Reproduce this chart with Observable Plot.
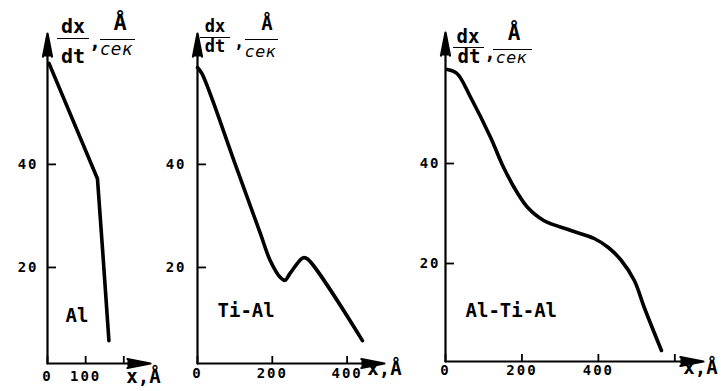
<!DOCTYPE html>
<html>
<head>
<meta charset="utf-8">
<script src="https://cdn.jsdelivr.net/npm/d3@7"></script>
<script src="https://cdn.jsdelivr.net/npm/@observablehq/plot@0.6"></script>
<style>
  html, body { margin: 0; padding: 0; background: #fff; }
  #wrap { position: relative; width: 721px; height: 391px; overflow: hidden; background: #fff; }
  #wrap svg { position: absolute; top: 0; overflow: visible; }
  #wrap g[aria-label="y-axis tick label"] text,
  #wrap g[aria-label="x-axis tick label"] text { letter-spacing: 2px; }
  .lab { position: absolute; transform: translate(-50%, -50%); line-height: 0.8; white-space: nowrap; color: #000; }
  .mono { font-family: "DejaVu Sans Mono", monospace; font-weight: bold; }
  .cek { font-family: "DejaVu Sans", sans-serif; font-style: italic; font-weight: normal; letter-spacing: 1px; }
  .bar { position: absolute; height: 0; border-top: 1.6px solid #000; }
</style>
</head>
<body>
<div id="wrap"></div>
<script>
// ---- data ----
// Panel 1: Al
const alX = [4, 131, 145, 161];
const alY = [59.6, 37.2, 22.8, 5.8];
// Panel 2: Ti-Al
const tiAlX = [0, 12, 100, 168, 194, 221, 234, 247, 274, 283, 295, 441];
const tiAlY = [58.8, 57.6, 40.2, 26.6, 21.4, 18.1, 17.5, 18.8, 21.4, 21.9, 21.6, 5.8];
// Panel 3: Al-Ti-Al
const alTiAlX = [5, 30, 66, 118, 152, 189, 215, 257, 328, 389, 426, 460, 494, 520, 565];
const alTiAlY = [58.8, 58.0, 53.2, 45.2, 39.2, 34.0, 31.2, 28.6, 26.6, 25.0, 23.2, 20.6, 16.6, 11.2, 2.6];

const yTicks = [20, 40];
const yTickLabels = ["20", "40"];
const p1XTicks = [0, 100, 200];
const p1XLabels = ["0", "100", ""];
const p2XTicks = [0, 200, 400];
const p2XLabels = ["0", "200", "400"];
const p3XTicks = [0, 200, 400, 600];
const p3XLabels = ["0", "200", "400", ""];
const sampleNames = ["Al", "Ti-Al", "Al-Ti-Al"];
const xAxisLabel = "x,Å";

// ---- panels ----
const wrap = document.getElementById("wrap");

function makePanel(cfg) {
  const data = cfg.xs.map((x, i) => ({x, y: cfg.ys[i]}));
  const [x0, x1] = cfg.xDomain;
  const [y0, y1] = cfg.yDomain;
  const xFmt = d => cfg.xLabels[cfg.xTicks.indexOf(d)];
  const yFmt = d => yTickLabels[yTicks.indexOf(d)];
  const svg = Plot.plot({
    width: cfg.width,
    height: 391,
    marginLeft: cfg.ml,
    marginRight: cfg.mr,
    marginTop: cfg.mt,
    marginBottom: cfg.mb,
    x: {domain: cfg.xDomain},
    y: {domain: cfg.yDomain},
    style: {background: "transparent", overflow: "visible", color: "#000",
            fontFamily: "'DejaVu Sans Mono', monospace", fontWeight: "bold", fontSize: "14px"},
    marks: [
      Plot.axisY(yTicks, {tickSize: 0, tickPadding: cfg.yPad, tickFormat: yFmt, label: null, fontSize: 14, fontWeight: "bold"}),
      Plot.axisY(yTicks, {tickSize: -9, tickFormat: () => "", label: null, strokeWidth: 1.8}),
      Plot.axisX(cfg.xTicks, {tickSize: 0, tickPadding: cfg.xPad, tickFormat: xFmt, label: null, fontSize: 14, fontWeight: "bold"}),
      Plot.axisX(cfg.xTicks, {tickSize: -7, tickFormat: () => "", label: null, strokeWidth: 1.8}),
      Plot.arrow([{}], {x1: x0, y1: y0, x2: x1, y2: y0, stroke: "#000", fill: "#000", strokeWidth: 2.2, headLength: 16, headAngle: 22}),
      Plot.arrow([{}], {x1: x0, y1: y0, x2: x0, y2: y1, stroke: "#000", fill: "#000", strokeWidth: 2.2, headLength: 16, headAngle: 22}),
      Plot.line(data, {x: "x", y: "y", curve: cfg.curve, stroke: "#000", strokeWidth: 3.6, strokeLinecap: "round", strokeLinejoin: "round"}),
      Plot.text([cfg.sample], {frameAnchor: "bottom-left", textAnchor: "start", dx: cfg.sdx, dy: cfg.sdy, fontSize: 19, fontWeight: "bold"}),
      Plot.text([xAxisLabel], {frameAnchor: "bottom-right", textAnchor: "middle", dx: cfg.ldx, dy: cfg.ldy, fontSize: 19, fontWeight: "bold"})
    ]
  });
  svg.style.left = cfg.left + "px";
  wrap.appendChild(svg);
}

makePanel({
  left: 0, width: 175, ml: 47, mr: 25, mt: 33, mb: 28,
  xDomain: [0, 270], yDomain: [1.36, 65.4],
  xTicks: p1XTicks, xLabels: p1XLabels, xPad: 8, yPad: 9,
  xs: alX, ys: alY, curve: "linear",
  sample: sampleNames[0], sdx: 18, sdy: -42,
  ldx: -7, ldy: 19
});
makePanel({
  left: 160, width: 260, ml: 37, mr: 36, mt: 33, mb: 28,
  xDomain: [0, 500], yDomain: [1.36, 65.4],
  xTicks: p2XTicks, xLabels: p2XLabels, xPad: 5, yPad: 11,
  xs: tiAlX, ys: tiAlY, curve: "catmull-rom",
  sample: sampleNames[1], sdx: 20, sdy: -47,
  ldx: 0, ldy: 11
});
makePanel({
  left: 420, width: 301, ml: 25, mr: 18, mt: 32, mb: 30,
  xDomain: [0, 675], yDomain: [0.4, 66.2],
  xTicks: p3XTicks, xLabels: p3XLabels, xPad: 4, yPad: 5,
  xs: alTiAlX, ys: alTiAlY, curve: "catmull-rom",
  sample: sampleNames[2], sdx: 20, sdy: -45,
  ldx: -3, ldy: 12
});

// ---- y-axis unit labels (fractions) ----
function lab(text, cx, cy, cls, size) {
  const s = document.createElement("span");
  s.className = "lab " + cls;
  s.textContent = text;
  s.style.left = cx + "px";
  s.style.top = cy + "px";
  s.style.fontSize = size + "px";
  wrap.appendChild(s);
}
function bar(xa, xb, y) {
  const d = document.createElement("div");
  d.className = "bar";
  d.style.left = xa + "px";
  d.style.width = (xb - xa) + "px";
  d.style.top = y + "px";
  wrap.appendChild(d);
}
const unitLabels = [
  {dx: [73, 26], l1: [57, 89, 38], dt: [73, 56], c: [95, 41], A: [120, 23], l2: [100, 135, 39], k: [117, 50], s: 20, sk: 17},
  {dx: [215, 27], l1: [200, 230, 37], dt: [215, 47], c: [239, 43], A: [267, 24], l2: [245, 278, 39], k: [261, 52], s: 17, sk: 16},
  {dx: [468, 37], l1: [453, 484, 47], dt: [469, 57], c: [490, 53], A: [514, 33], l2: [493, 532, 49], k: [512, 58], s: 19, sk: 16}
];
for (const u of unitLabels) {
  lab("dx", u.dx[0], u.dx[1], "mono", u.s);
  bar(u.l1[0], u.l1[1], u.l1[2]);
  lab("dt", u.dt[0], u.dt[1], "mono", u.s);
  lab(",", u.c[0], u.c[1], "mono", u.s);
  lab("Å", u.A[0], u.A[1], "mono", u.s + 2);
  bar(u.l2[0], u.l2[1], u.l2[2]);
  lab("сек", u.k[0], u.k[1], "cek", u.sk);
}
</script>
</body>
</html>
